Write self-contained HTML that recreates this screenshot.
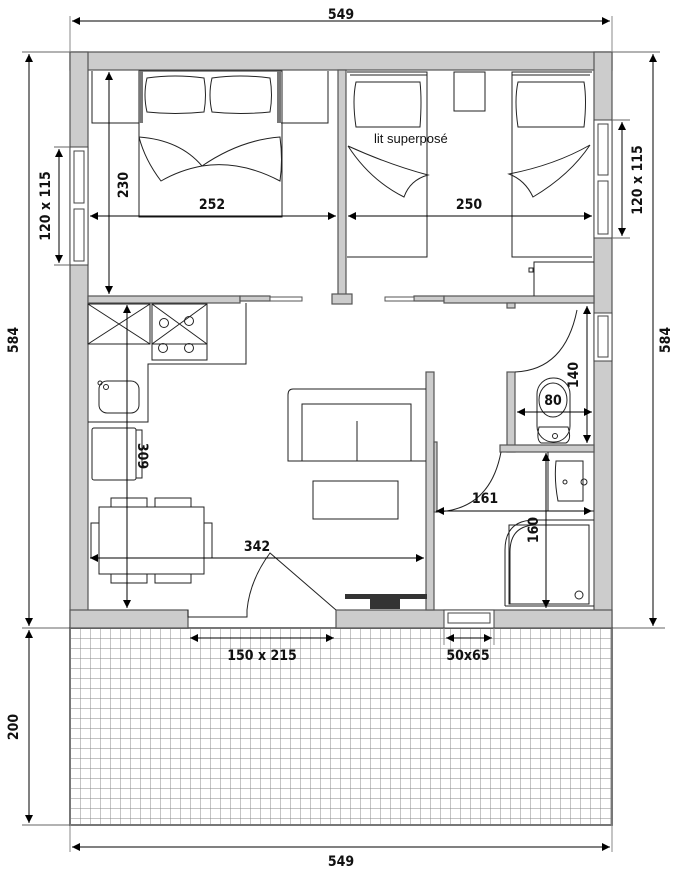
<!DOCTYPE html>
<html><head><meta charset="utf-8"><style>
html,body{margin:0;padding:0;background:#fff}
svg{display:block}
.d{font-family:"DejaVu Sans Condensed","Liberation Sans Narrow","Liberation Sans",sans-serif;font-stretch:condensed;font-weight:bold;font-size:14px;fill:#111}
</style></head><body>
<svg width="681" height="880" viewBox="0 0 681 880" xmlns="http://www.w3.org/2000/svg">
<defs>
<pattern id="g" width="10" height="10" patternUnits="userSpaceOnUse" x="70" y="628">
<path d="M0 0H10M0 0V10" stroke="#8a8a8a" stroke-width="1" fill="none"/>
</pattern>
<marker id="a" viewBox="0 0 10 10" refX="10" refY="5" markerWidth="10" markerHeight="8" orient="auto-start-reverse" markerUnits="userSpaceOnUse"><path d="M0 0L10 5L0 10z" fill="#000"/></marker>
</defs>
<rect x="70" y="628" width="542" height="197" fill="url(#g)" stroke="#777" stroke-width="2"/>
<g fill="#ccc" stroke="#555" stroke-width="1.2">
<rect x="70" y="52" width="542" height="18"/>
<rect x="70" y="52" width="18" height="576"/>
<rect x="594" y="52" width="18" height="576"/>
<rect x="70" y="610" width="118" height="18"/>
<rect x="336" y="610" width="276" height="18"/>
<rect x="338" y="70" width="8" height="226"/>
<rect x="332" y="294" width="20" height="10"/>
<rect x="88" y="296" width="152" height="7"/>
<rect x="240" y="296" width="30" height="5"/>
<rect x="414" y="296" width="30" height="5"/>
<rect x="444" y="296" width="150" height="7"/>
<rect x="507" y="303" width="8" height="5"/>
<rect x="426" y="372" width="8" height="238"/>
<rect x="434" y="442" width="3" height="70"/>
<rect x="507" y="372" width="8" height="80"/>
<rect x="500" y="445" width="94" height="7"/>
</g>
<g fill="#fff" stroke="#555">
<rect x="270" y="297" width="32" height="4"/>
<rect x="385" y="297" width="29" height="4"/>
</g>
<g fill="#fff" stroke="#444">
<rect x="70" y="147" width="18" height="118"/>
<rect x="74" y="151" width="10" height="52"/><rect x="74" y="209" width="10" height="52"/>
<rect x="594" y="120" width="18" height="118"/>
<rect x="598" y="124" width="10" height="51"/><rect x="598" y="181" width="10" height="53"/>
<rect x="594" y="313" width="18" height="48"/>
<rect x="598" y="316" width="10" height="41"/>
<rect x="444" y="610" width="50" height="18"/>
<rect x="448" y="613" width="42" height="10"/>
</g>
<g fill="none" stroke="#222" stroke-width="1">
<path d="M92 71V123H139M281 123H328V71"/>
<rect x="139" y="71" width="143" height="146"/>
<path d="M147 78Q175 74 204 78Q207 95 204 112Q175 115 147 112Q143 95 147 78Z"/>
<path d="M212 78Q240 74 270 78Q273 95 270 112Q240 115 212 112Q208 95 212 78Z"/>
<path d="M139 137Q180 140 202 166Q180 170 161 181Q145 160 139 137M202 166Q240 140 280 137Q283 160 280 181Q240 160 202 166"/>
</g>
<rect x="139" y="71" width="4" height="52" fill="#777"/><rect x="277" y="71" width="4" height="52" fill="#777"/>
<g fill="none" stroke="#222" stroke-width="1">
<path d="M347 72H427V257H347"/><line x1="350" y1="75" x2="427" y2="75"/>
<path d="M356 82H420Q422 100 420 127H356Q352 100 356 82Z"/>
<path d="M348 146Q390 165 428 175Q410 180 404 197Q370 180 348 146"/>
<rect x="454" y="72" width="31" height="39"/>
<path d="M592 72H512V257H592"/><line x1="512" y1="75" x2="590" y2="75"/>
<path d="M518 82H584Q587 100 584 127H518Q514 100 518 82Z"/>
<path d="M590 145Q555 165 509 174Q525 180 533 197Q570 175 590 145"/>
<path d="M534 296V262H594"/><rect x="529" y="268" width="4" height="4"/>
</g>
<text x="374" y="143" font-family="Liberation Sans,sans-serif" font-size="13" fill="#111">lit superposé</text>
<g fill="none" stroke="#222" stroke-width="1">
<rect x="88" y="304" width="62" height="40"/><path d="M88 304L150 344M150 304L88 344"/>
<rect x="152" y="304" width="55" height="40"/><path d="M152 304L207 344M207 304L152 344"/>
<rect x="152" y="344" width="55" height="16"/>
<path d="M246 303V364H148V422H88"/>
<circle cx="164" cy="323" r="4.5"/><circle cx="189" cy="321" r="4.5"/><circle cx="163" cy="348" r="4.5"/><circle cx="189" cy="348" r="4.5"/>
<rect x="99" y="381" width="40" height="32" rx="8"/><circle cx="100" cy="383" r="2"/><circle cx="106" cy="387" r="2.5"/>
<rect x="92" y="428" width="44" height="52" rx="2"/><rect x="136" y="430" width="6" height="48"/>
<rect x="99" y="507" width="105" height="67"/>
<rect x="111" y="498" width="36" height="9"/><rect x="155" y="498" width="36" height="9"/>
<rect x="111" y="574" width="36" height="9"/><rect x="155" y="574" width="36" height="9"/>
<rect x="91" y="523" width="8" height="35"/><rect x="204" y="523" width="8" height="35"/>
<path d="M426 389H293Q288 389 288 395V461H426"/>
<path d="M302 461V404H411V461M357 421V461"/>
<rect x="313" y="481" width="85" height="38"/>
<path d="M188 610V617H247V610Q250 580 270 553L336 610"/>
<path d="M515 372Q565 370 577 310"/>
<path d="M436 512Q490 510 501 452"/>
<rect x="537" y="378" width="33" height="64" rx="16"/>
<ellipse cx="553" cy="400" rx="14" ry="17"/>
<path d="M539 427H568Q572 440 566 443H541Q536 440 539 427Z"/><circle cx="555" cy="436" r="2.5"/>
<path d="M548 452V511H594M556 461H583V501H558Q554 480 556 461Z"/><circle cx="565" cy="482" r="2"/><circle cx="584" cy="482" r="3"/>
<path d="M505 606V550Q505 520 535 520H594"/><path d="M505 606H594"/>
<path d="M510 604V552Q510 525 537 525"/>
<rect x="509" y="525" width="80" height="79"/><circle cx="579" cy="595" r="4"/>
</g>
<rect x="345" y="594" width="82" height="5" fill="#333"/><rect x="370" y="599" width="30" height="10" fill="#333"/>
<g stroke="#000" stroke-width="1" fill="none">
<line x1="72" y1="21" x2="610" y2="21" marker-start="url(#a)" marker-end="url(#a)"/>
<line x1="70" y1="16" x2="70" y2="52" stroke="#888"/><line x1="612" y1="16" x2="612" y2="52" stroke="#888"/>
<line x1="72" y1="847" x2="610" y2="847" marker-start="url(#a)" marker-end="url(#a)"/>
<line x1="70" y1="825" x2="70" y2="852" stroke="#888"/><line x1="612" y1="825" x2="612" y2="852" stroke="#888"/>
<line x1="29" y1="54" x2="29" y2="626" marker-start="url(#a)" marker-end="url(#a)"/>
<line x1="653" y1="54" x2="653" y2="626" marker-start="url(#a)" marker-end="url(#a)"/>
<line x1="22" y1="52" x2="70" y2="52" stroke="#666"/><line x1="612" y1="52" x2="660" y2="52" stroke="#666"/>
<line x1="22" y1="628" x2="70" y2="628" stroke="#666"/><line x1="612" y1="628" x2="665" y2="628" stroke="#666"/>
<line x1="29" y1="630" x2="29" y2="823" marker-start="url(#a)" marker-end="url(#a)"/>
<line x1="22" y1="825" x2="70" y2="825" stroke="#666"/>
<line x1="59" y1="149" x2="59" y2="263" marker-start="url(#a)" marker-end="url(#a)"/>
<line x1="54" y1="147" x2="70" y2="147" stroke="#666"/><line x1="54" y1="265" x2="70" y2="265" stroke="#666"/>
<line x1="622" y1="122" x2="622" y2="236" marker-start="url(#a)" marker-end="url(#a)"/>
<line x1="612" y1="120" x2="630" y2="120" stroke="#666"/><line x1="612" y1="238" x2="630" y2="238" stroke="#666"/>
<line x1="109" y1="72" x2="109" y2="294" marker-start="url(#a)" marker-end="url(#a)"/>
<line x1="90" y1="216" x2="336" y2="216" marker-start="url(#a)" marker-end="url(#a)"/>
<line x1="348" y1="216" x2="592" y2="216" marker-start="url(#a)" marker-end="url(#a)"/>
<line x1="127" y1="305" x2="127" y2="608" marker-start="url(#a)" marker-end="url(#a)"/>
<line x1="90" y1="558" x2="424" y2="558" marker-start="url(#a)" marker-end="url(#a)"/>
<line x1="190" y1="638" x2="334" y2="638" marker-start="url(#a)" marker-end="url(#a)"/>
<line x1="446" y1="638" x2="492" y2="638" marker-start="url(#a)" marker-end="url(#a)"/>
<line x1="444" y1="628" x2="444" y2="645" stroke="#888"/><line x1="494" y1="628" x2="494" y2="645" stroke="#888"/>
<line x1="587" y1="306" x2="587" y2="443" marker-start="url(#a)" marker-end="url(#a)"/>
<line x1="517" y1="412" x2="592" y2="412" marker-start="url(#a)" marker-end="url(#a)"/>
<line x1="436" y1="511" x2="592" y2="511" marker-start="url(#a)" marker-end="url(#a)"/>
<line x1="546" y1="453" x2="546" y2="608" marker-start="url(#a)" marker-end="url(#a)"/>
</g>
<text class="d" x="341" y="19" text-anchor="middle">549</text>
<text class="d" x="341" y="866" text-anchor="middle">549</text>
<text class="d" transform="translate(18 340) rotate(-90)" text-anchor="middle">584</text>
<text class="d" transform="translate(670 340) rotate(-90)" text-anchor="middle">584</text>
<text class="d" transform="translate(18 727) rotate(-90)" text-anchor="middle">200</text>
<text class="d" transform="translate(50 206) rotate(-90)" text-anchor="middle">120 x 115</text>
<text class="d" transform="translate(642 180) rotate(-90)" text-anchor="middle">120 x 115</text>
<text class="d" transform="translate(128 185) rotate(-90)" text-anchor="middle">230</text>
<text class="d" x="212" y="209" text-anchor="middle">252</text>
<text class="d" x="469" y="209" text-anchor="middle">250</text>
<text class="d" transform="translate(138 456) rotate(90)" text-anchor="middle">309</text>
<text class="d" x="257" y="551" text-anchor="middle">342</text>
<text class="d" x="262" y="660" text-anchor="middle">150 x 215</text>
<text class="d" x="468" y="660" text-anchor="middle">50x65</text>
<text class="d" transform="translate(578 375) rotate(-90)" text-anchor="middle">140</text>
<text class="d" x="553" y="405" text-anchor="middle">80</text>
<text class="d" x="485" y="503" text-anchor="middle">161</text>
<text class="d" transform="translate(538 530) rotate(-90)" text-anchor="middle">160</text>
</svg>
</body></html>
